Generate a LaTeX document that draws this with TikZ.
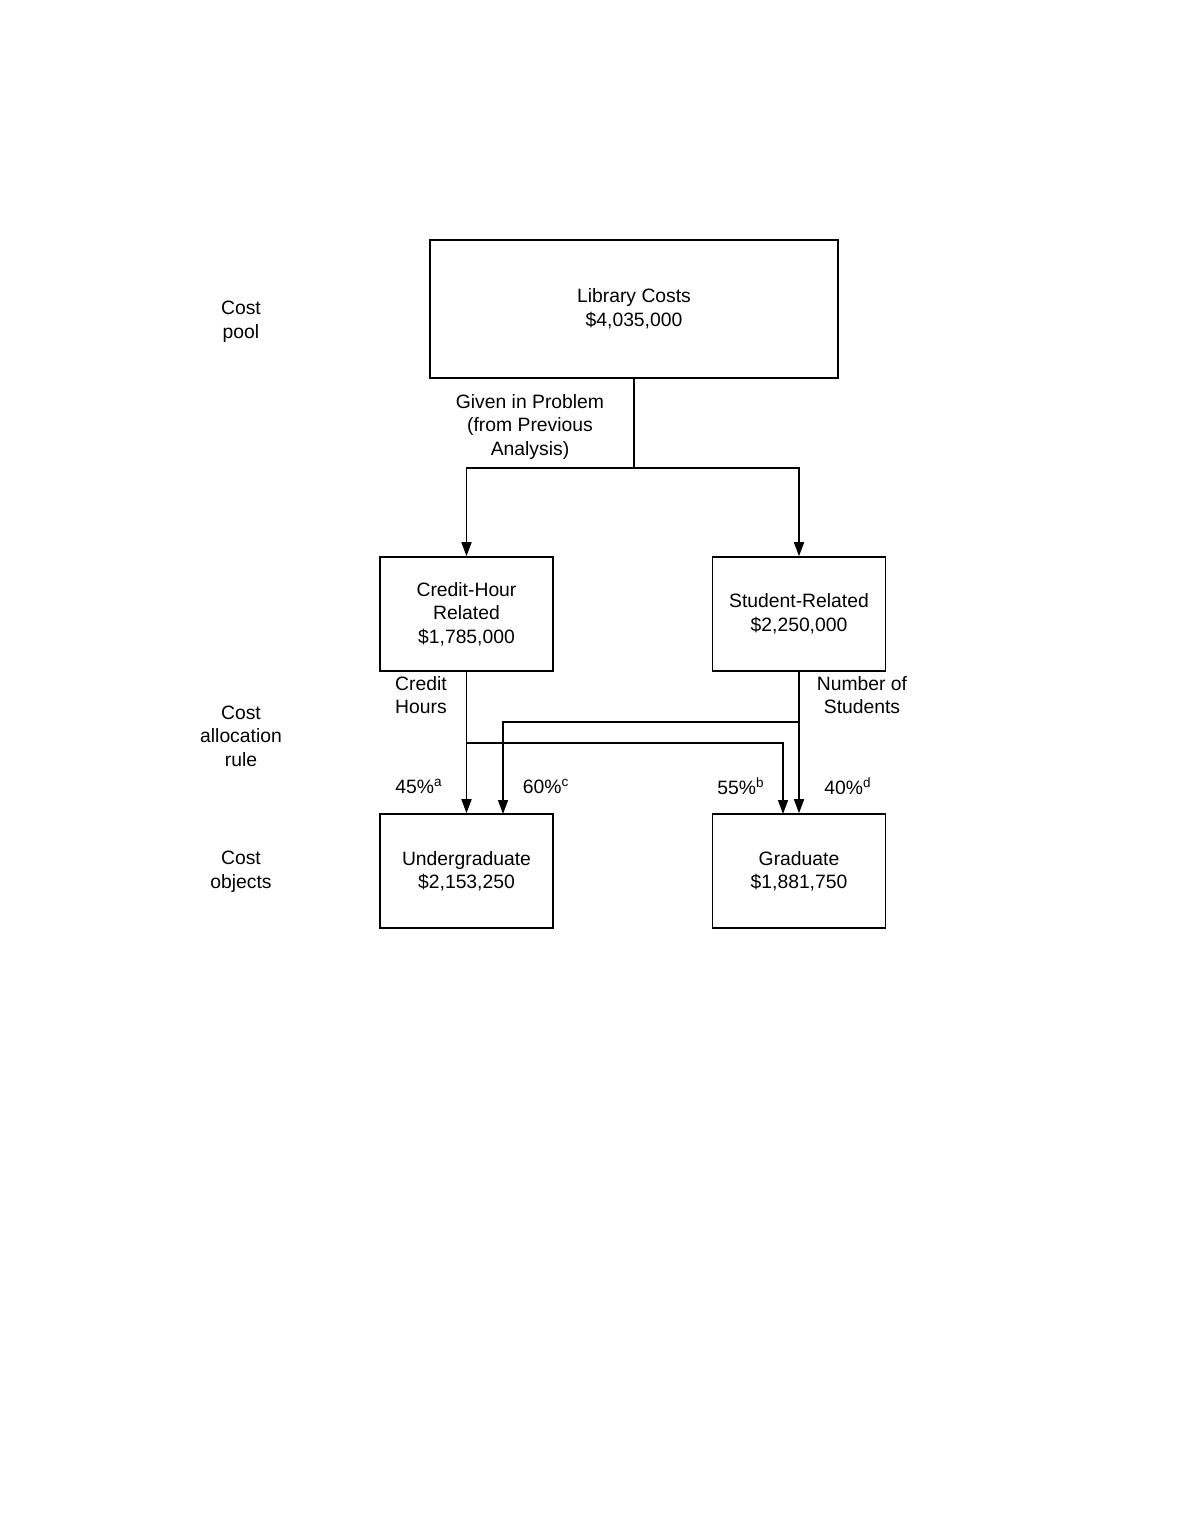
\documentclass[tikz,border=0pt]{standalone}
\usepackage{fontspec}
\setmainfont{Liberation Sans}
\usetikzlibrary{arrows.meta}
\tikzset{
  box/.style={draw, line width=0.9pt, inner sep=0pt, align=center},
  bigbox/.style={box, minimum width=8.16cm, minimum height=2.76cm},
  smallbox/.style={box, minimum width=3.46cm, minimum height=2.28cm},
  lbl/.style={align=center, inner sep=0pt},
  arr/.style={-{Triangle[length=2.8mm,width=2mm]}}
}
\begin{document}
\begin{tikzpicture}[x=0.02cm, y=-0.02cm, line width=0.9pt,
  font=\fontsize{11}{13.4}\selectfont]
\useasboundingbox (0,0) rectangle (1180,1527);
% boxes
\node[bigbox] (lib) at (634,309) {Library Costs\\\$4,035,000};
\node[smallbox] (chr) at (466.5,614) {Credit-Hour\\Related\\\$1,785,000};
\node[smallbox] (sr) at (799,614) {Student-Related\\\$2,250,000};
\node[smallbox] (ug) at (466.5,871) {Undergraduate\\\$2,153,250};
\node[smallbox] (grad) at (799,871) {Graduate\\\$1,881,750};
% left side labels
\node[lbl] (pool) at (241,322) {Cost\\pool};
\node[lbl] (rule) at (241,736) {Cost\\allocation\\rule};
\node[lbl] (obj) at (241,872) {Cost\\objects};
% connector labels
\node[lbl] (given) at (530,427) {Given in Problem\\(from Previous\\Analysis)};
\node[lbl] (chlbl) at (421,695) {Credit\\Hours};
\node[lbl] (nslbl) at (862,695) {Number of\\Students};
\node[lbl] (pa) at (419,786) {45\%\textsuperscript{a}};
\node[lbl] (pc) at (546,786) {60\%\textsuperscript{c}};
\node[lbl] (pb) at (741,786) {55\%\textsuperscript{b}};
\node[lbl] (pd) at (848,786) {40\%\textsuperscript{d}};
% split points
\coordinate (split) at (lib.south |- 0,468);
\coordinate (chb) at (chr.south |- 0,743);
\coordinate (srb) at (sr.south |- 0,722);
\coordinate (u60) at (503,814);
\coordinate (g55) at (783,814);
% connectors
\draw (lib.south) -- (split);
\draw[arr] (split) -| (chr.north);
\draw[arr] (split) -| (sr.north);
\draw[arr] (chr.south) -- (ug.north);
\draw[arr] (chb) -| (g55);
\draw[arr] (sr.south) -- (grad.north);
\draw[arr] (srb) -| (u60);
\end{tikzpicture}
\end{document}
